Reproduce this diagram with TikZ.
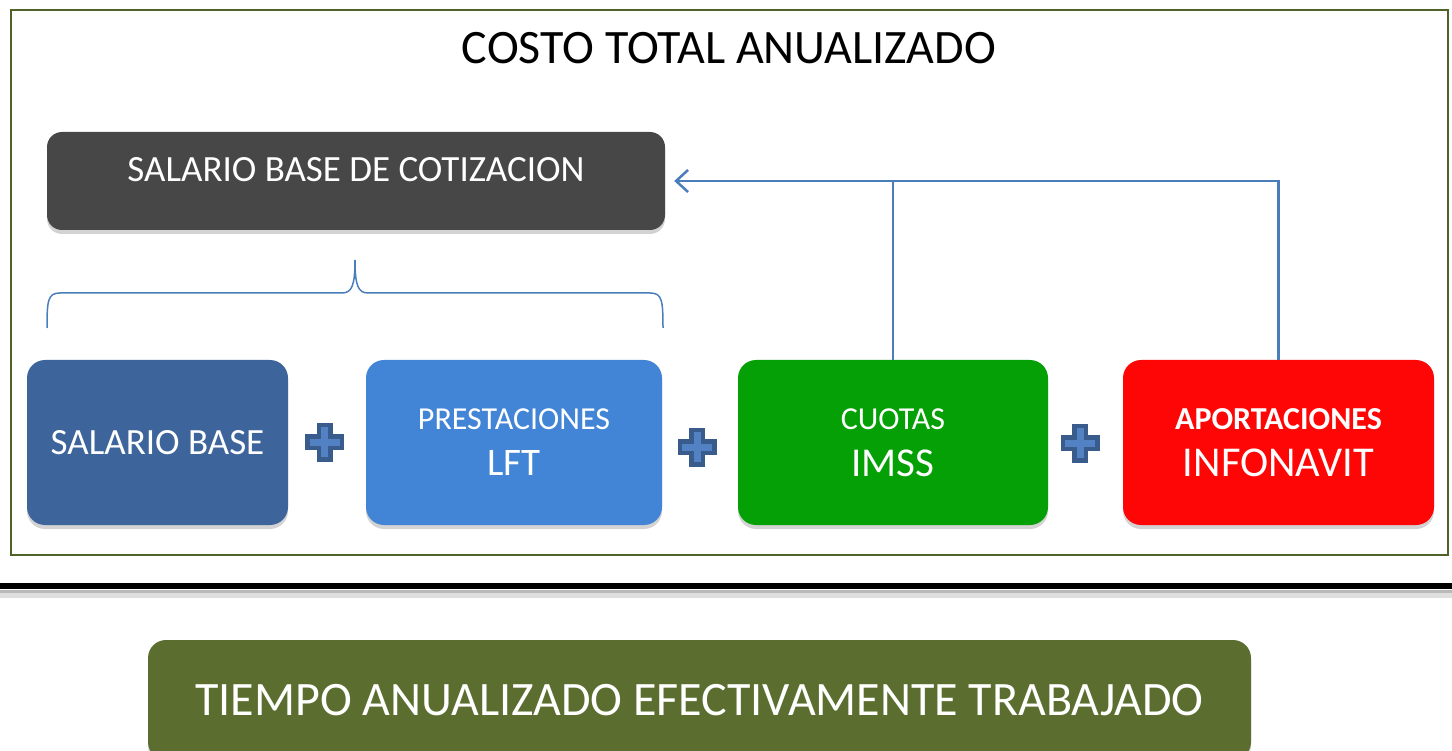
\documentclass[tikz,border=0pt]{standalone}
\usepackage{fontspec}
\setmainfont{Carlito}
\usetikzlibrary{shadows,arrows.meta}

\definecolor{frameolive}{RGB}{79,98,40}
\definecolor{darkgrey}{RGB}{71,71,71}
\definecolor{baseblue}{RGB}{61,101,155}
\definecolor{lightblue}{RGB}{66,133,214}
\definecolor{imssgreen}{RGB}{5,160,5}
\definecolor{infored}{RGB}{255,6,6}
\definecolor{timeolive}{RGB}{91,110,47}
\definecolor{linkblue}{RGB}{74,126,187}
\definecolor{plusdark}{RGB}{58,92,140}
\definecolor{pluslight}{RGB}{82,130,195}

\tikzset{
	costbox/.style={rounded corners=18pt, inner sep=0pt, text=white, align=center,
		drop shadow={shadow xshift=0pt, shadow yshift=-4pt, opacity=0.35}},
	link/.style={draw=linkblue, line width=2.5pt},
	pluspic/.pic={
		\fill[plusdark] (-19.5,-8) rectangle (19.5,8);
		\fill[plusdark] (-8,-19.5) rectangle (8,19.5);
		\fill[pluslight] (-15,-3.5) rectangle (15,3.5);
		\fill[pluslight] (-3.5,-15) rectangle (3.5,15);
	}
}

\begin{document}
\begin{tikzpicture}[x=1pt, y=-1pt]
	\useasboundingbox (0,0) rectangle (1452,751);
	\clip (0,0) rectangle (1452,751);
	% frame and title
	\draw[frameolive, line width=1.5pt] (11,10) rectangle (1448,555);
	\node (title) at (729,48) {\fontsize{48}{50}\selectfont COSTO TOTAL ANUALIZADO};
	% upper box
	\node[costbox, fill=darkgrey, rounded corners=15pt, minimum width=618pt, minimum height=98pt,
		text height=24pt, text depth=22pt, font=\fontsize{37}{40}\selectfont] (sbc) at (356,181) {SALARIO BASE DE COTIZACION};
	% brace
	\draw[link, line width=1.5pt] (47,328) .. controls (47,300) and (48,293) .. (60,293) -- (342,293)
		.. controls (352,293) and (355,285) .. (355,260) .. controls (355,285) and (358,293) .. (368,293)
		-- (650,293) .. controls (662,293) and (663,300) .. (663,328);
	% row of boxes
	\node[costbox, fill=baseblue, minimum width=261pt, minimum height=165pt, font=\fontsize{37}{44}\selectfont] (sb) at (157.5,442.5) {SALARIO BASE};
	\node[costbox, fill=lightblue, minimum width=296pt, minimum height=165pt, font=\fontsize{39}{46}\selectfont] (lft) at (514,442.5)
		{{\fontsize{32}{46}\selectfont PRESTACIONES}\\LFT};
	\node[costbox, fill=imssgreen, minimum width=310pt, minimum height=165pt, font=\fontsize{41}{46}\selectfont] (imss) at (893,442.5)
		{{\fontsize{32}{46}\selectfont CUOTAS}\\[1pt]IMSS};
	\node[costbox, fill=infored, minimum width=311pt, minimum height=165pt, font=\fontsize{42.5}{46}\selectfont] (inf) at (1278.5,442.5)
		{{\fontsize{32}{46}\selectfont\bfseries APORTACIONES}\\[1pt]INFONAVIT};
	\pic at (324.5,442) {pluspic};
	\pic at (697,447) {pluspic};
	\pic at (1080,443) {pluspic};
	% connectors
	\draw[link, -{Straight Barb[length=12pt, width=22pt, line width=2.5pt]}, shorten >=9pt] (imss.north) |- (sbc.east);
	\draw[link] (inf.north) |- (imss.north |- sbc.east);
	% separator
	\draw[gray!25, line width=8pt] (0,594) -- (1452,594);
	\draw[gray!55, line width=3pt] (0,591) -- (1452,591);
	\draw[black, line width=6pt] (0,586) -- (1452,586);
	% lower box
	\node[costbox, fill=timeolive, minimum width=1103pt, minimum height=120pt, font=\fontsize{48}{52}\selectfont] (time) at (699.5,700)
		{TIEMPO ANUALIZADO EFECTIVAMENTE TRABAJADO};
\end{tikzpicture}
\end{document}
